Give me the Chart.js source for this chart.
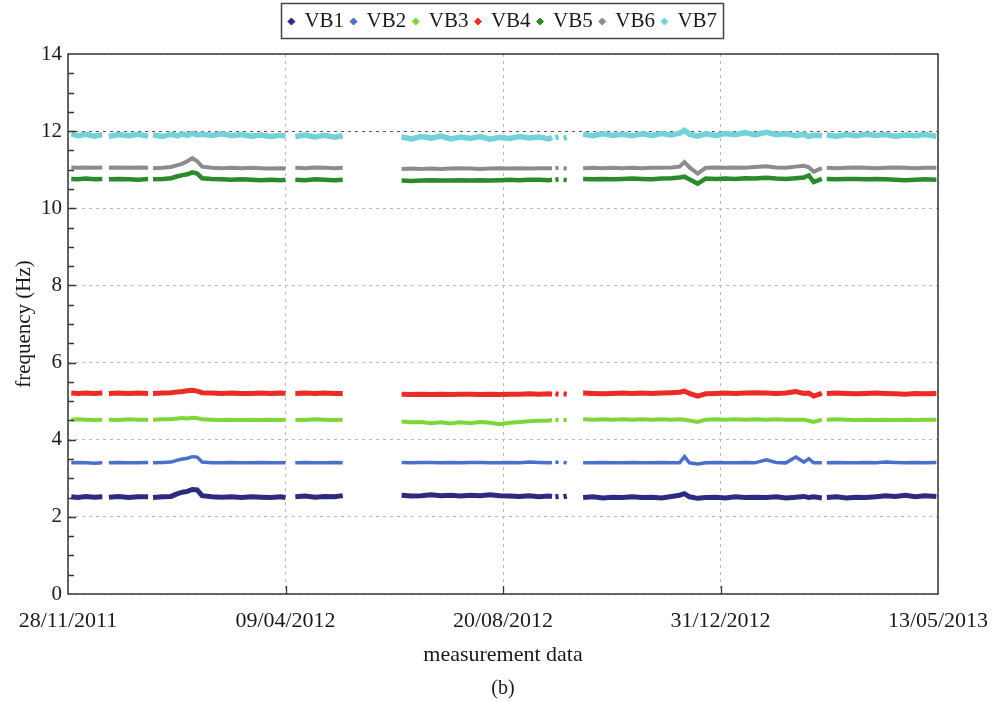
<!DOCTYPE html>
<html>
<head>
<meta charset="utf-8">
<script src="https://cdn.jsdelivr.net/npm/chart.js@4/dist/chart.umd.min.js"></script>
<style>
  html, body { margin: 0; padding: 0; background: #fff; }
  #wrap { width: 992px; height: 702px; }
</style>
</head>
<body>
<div id="wrap"><canvas id="c" width="992" height="702"></canvas></div>
<script>
// Sample days counted from 28/11/2011; null entries break the trace where logging stopped.
const days = [
  2, 6, 11, 16, 21, 23,
  25, 31, 37, 43, 49, 50.5,
  52, 58, 63, 67, 70, 73, 76, 79, 82, 88, 94, 100, 106, 112, 118, 124, 130, 133, 136,
  139, 145, 151, 157, 163, 168, 185,
  204, 210, 216, 222, 228, 234, 240, 246, 252, 258, 264, 270, 276, 282, 288, 294, 296, 297,
  298, 300, 301.5,
  303, 305, 310,
  315, 321, 327, 333, 339, 345, 351, 357, 363, 369, 374, 377, 380, 385, 390, 396, 402, 408, 414, 420, 427, 433, 439, 445, 450, 453, 456, 461, 462.5,
  464, 470, 476, 482, 488, 494, 500, 506, 512, 518, 524, 531
];

const vb1 = [
  2.52, 2.50, 2.53, 2.51, 2.52, null,
  2.51, 2.53, 2.50, 2.52, 2.52, null,
  2.50, 2.52, 2.53, 2.60, 2.64, 2.66, 2.71, 2.70, 2.55, 2.52, 2.51, 2.52, 2.50, 2.52, 2.51, 2.50, 2.52, 2.50, null,
  2.52, 2.54, 2.51, 2.53, 2.52, 2.55, null,
  2.56, 2.54, 2.55, 2.57, 2.55, 2.56, 2.54, 2.56, 2.55, 2.57, 2.55, 2.54, 2.53, 2.55, 2.52, 2.54, 2.53, null,
  2.52, 2.53, null,
  2.52, 2.54, null,
  2.50, 2.52, 2.49, 2.51, 2.50, 2.52, 2.50, 2.51, 2.49, 2.53, 2.56, 2.60, 2.52, 2.48, 2.50, 2.51, 2.49, 2.52, 2.50, 2.51, 2.50, 2.52, 2.49, 2.51, 2.53, 2.50, 2.52, 2.49, null,
  2.50, 2.52, 2.49, 2.51, 2.50, 2.52, 2.55, 2.53, 2.56, 2.52, 2.55, 2.53
];

const vb2 = [
  3.40, 3.41, 3.40, 3.39, 3.40, null,
  3.40, 3.41, 3.40, 3.40, 3.41, null,
  3.40, 3.41, 3.42, 3.47, 3.50, 3.52, 3.56, 3.55, 3.42, 3.40, 3.40, 3.41, 3.40, 3.40, 3.41, 3.40, 3.40, 3.40, null,
  3.40, 3.41, 3.40, 3.40, 3.41, 3.40, null,
  3.41, 3.40, 3.41, 3.41, 3.40, 3.41, 3.40, 3.41, 3.41, 3.40, 3.40, 3.41, 3.40, 3.42, 3.41, 3.40, 3.41, null,
  3.42, 3.41, null,
  3.41, 3.40, null,
  3.40, 3.40, 3.41, 3.40, 3.40, 3.41, 3.40, 3.40, 3.41, 3.40, 3.40, 3.56, 3.40, 3.37, 3.40, 3.41, 3.40, 3.40, 3.41, 3.40, 3.48, 3.41, 3.40, 3.55, 3.42, 3.51, 3.40, 3.40, null,
  3.40, 3.41, 3.40, 3.40, 3.41, 3.40, 3.42, 3.41, 3.40, 3.41, 3.40, 3.41
];

const vb3 = [
  4.52, 4.53, 4.52, 4.51, 4.52, null,
  4.52, 4.51, 4.53, 4.52, 4.52, null,
  4.52, 4.53, 4.53, 4.55, 4.56, 4.55, 4.57, 4.56, 4.53, 4.52, 4.51, 4.52, 4.51, 4.52, 4.51, 4.52, 4.51, 4.52, null,
  4.52, 4.51, 4.53, 4.52, 4.51, 4.52, null,
  4.47, 4.45, 4.46, 4.43, 4.45, 4.42, 4.45, 4.43, 4.46, 4.44, 4.40, 4.44, 4.46, 4.48, 4.49, 4.50, 4.51, null,
  4.52, 4.51, null,
  4.52, 4.51, null,
  4.53, 4.52, 4.53, 4.52, 4.53, 4.52, 4.53, 4.52, 4.53, 4.52, 4.53, 4.52, 4.50, 4.46, 4.52, 4.53, 4.52, 4.53, 4.52, 4.53, 4.52, 4.53, 4.52, 4.52, 4.52, 4.49, 4.46, 4.52, null,
  4.52, 4.53, 4.52, 4.51, 4.52, 4.51, 4.52, 4.51, 4.52, 4.51, 4.52, 4.52
];

const vb4 = [
  5.21, 5.20, 5.21, 5.20, 5.21, null,
  5.20, 5.21, 5.20, 5.21, 5.20, null,
  5.20, 5.21, 5.22, 5.24, 5.25, 5.27, 5.28, 5.26, 5.22, 5.21, 5.20, 5.21, 5.20, 5.20, 5.21, 5.20, 5.21, 5.20, null,
  5.20, 5.21, 5.20, 5.21, 5.20, 5.20, null,
  5.18, 5.17, 5.18, 5.17, 5.18, 5.17, 5.18, 5.18, 5.17, 5.18, 5.17, 5.18, 5.18, 5.19, 5.18, 5.19, 5.18, null,
  5.19, 5.18, null,
  5.19, 5.18, null,
  5.21, 5.20, 5.19, 5.20, 5.21, 5.20, 5.21, 5.20, 5.21, 5.22, 5.23, 5.26, 5.20, 5.13, 5.19, 5.20, 5.21, 5.20, 5.21, 5.22, 5.21, 5.20, 5.21, 5.25, 5.20, 5.21, 5.13, 5.20, null,
  5.20, 5.21, 5.20, 5.19, 5.20, 5.21, 5.20, 5.19, 5.18, 5.20, 5.19, 5.20
];

const vb5 = [
  10.76, 10.75, 10.77, 10.75, 10.76, null,
  10.75, 10.76, 10.75, 10.74, 10.76, null,
  10.75, 10.76, 10.78, 10.83, 10.86, 10.88, 10.93, 10.90, 10.78, 10.76, 10.75, 10.74, 10.75, 10.74, 10.73, 10.74, 10.73, 10.74, null,
  10.74, 10.73, 10.75, 10.74, 10.73, 10.74, null,
  10.72, 10.71, 10.72, 10.73, 10.72, 10.72, 10.73, 10.72, 10.73, 10.72, 10.73, 10.74, 10.73, 10.74, 10.74, 10.73, 10.74, null,
  10.74, 10.75, null,
  10.74, 10.73, null,
  10.76, 10.75, 10.76, 10.75, 10.76, 10.77, 10.76, 10.75, 10.77, 10.78, 10.80, 10.82, 10.75, 10.64, 10.77, 10.76, 10.77, 10.76, 10.78, 10.77, 10.79, 10.77, 10.76, 10.78, 10.80, 10.85, 10.68, 10.76, null,
  10.76, 10.75, 10.76, 10.76, 10.75, 10.76, 10.75, 10.74, 10.73, 10.74, 10.75, 10.74
];

const vb6 = [
  11.06, 11.05, 11.06, 11.05, 11.06, null,
  11.05, 11.06, 11.05, 11.06, 11.05, null,
  11.04, 11.05, 11.07, 11.12, 11.16, 11.22, 11.30, 11.22, 11.08, 11.05, 11.04, 11.05, 11.04, 11.05, 11.04, 11.03, 11.04, 11.03, null,
  11.05, 11.04, 11.06, 11.05, 11.04, 11.05, null,
  11.02, 11.03, 11.02, 11.03, 11.02, 11.03, 11.04, 11.03, 11.02, 11.03, 11.04, 11.03, 11.04, 11.03, 11.04, 11.04, 11.03, null,
  11.04, 11.05, null,
  11.04, 11.03, null,
  11.04, 11.05, 11.04, 11.05, 11.04, 11.05, 11.04, 11.05, 11.05, 11.06, 11.08, 11.20, 11.06, 10.90, 11.05, 11.06, 11.05, 11.06, 11.05, 11.07, 11.09, 11.06, 11.05, 11.08, 11.10, 11.06, 10.95, 11.04, null,
  11.05, 11.04, 11.05, 11.06, 11.05, 11.04, 11.05, 11.06, 11.05, 11.04, 11.05, 11.05
];

const vb7 = [
  11.93, 11.88, 11.92, 11.87, 11.91, null,
  11.86, 11.91, 11.88, 11.92, 11.87, null,
  11.90, 11.86, 11.92, 11.88, 11.93, 11.89, 11.94, 11.90, 11.92, 11.89, 11.93, 11.88, 11.91, 11.87, 11.90, 11.86, 11.89, 11.87, null,
  11.86, 11.90, 11.85, 11.89, 11.84, 11.88, null,
  11.85, 11.80, 11.86, 11.82, 11.87, 11.80, 11.85, 11.81, 11.86, 11.79, 11.84, 11.81, 11.86, 11.82, 11.85, 11.80, 11.84, null,
  11.83, 11.85, null,
  11.82, 11.84, null,
  11.92, 11.88, 11.93, 11.89, 11.92, 11.88, 11.93, 11.89, 11.94, 11.90, 11.95, 12.02, 11.92, 11.87, 11.93, 11.89, 11.94, 11.91, 11.96, 11.90, 11.97, 11.91, 11.93, 11.88, 11.92, 11.86, 11.90, 11.88, null,
  11.90, 11.87, 11.91, 11.88, 11.92, 11.89, 11.91, 11.87, 11.90, 11.88, 11.91, 11.87
];

const seriesNames = ['VB1', 'VB2', 'VB3', 'VB4', 'VB5', 'VB6', 'VB7'];
const seriesValues = [vb1, vb2, vb3, vb4, vb5, vb6, vb7];
const seriesColors = ['#2d2a80', '#4a70cc', '#7fd638', '#ec2a26', '#2b8a2b', '#8c8c8c', '#72d2d8'];
const seriesWidths = [5, 3.5, 4, 5, 4.5, 4, 5.5];

const tickDays = [0, 133, 266, 399, 532];
const tickLabels = ['28/11/2011', '09/04/2012', '20/08/2012', '31/12/2012', '13/05/2013'];

const FONT = "'Liberation Serif', 'Times New Roman', serif";
Chart.defaults.font.family = FONT;
Chart.defaults.color = '#1a1a1a';

const datasets = seriesNames.map((name, k) => ({
  label: name,
  data: days.map((d, i) => ({ x: d, y: seriesValues[k][i] })),
  borderColor: seriesColors[k],
  backgroundColor: seriesColors[k],
  borderWidth: seriesWidths[k],
  borderCapStyle: 'butt',
  pointRadius: 0,
  pointHoverRadius: 0,
  pointStyle: 'rectRot',
  spanGaps: false,
  tension: 0,
  fill: false
}));

// Extra room under the legend so the plot starts lower.
const legendGap = {
  id: 'legendGap',
  beforeLayout(chart) {
    const lg = chart.legend;
    if (lg && !lg.__gap) {
      const fit = lg.fit.bind(lg);
      lg.fit = function () { fit(); this.height += 12; };
      lg.__gap = true;
    }
  }
};

// Plot frame, inward tick marks and the box round the legend.
const frame = {
  id: 'frame',
  afterDraw(chart) {
    const { ctx, chartArea: a, scales: { x, y } } = chart;
    ctx.save();
    ctx.strokeStyle = '#363636';
    ctx.lineWidth = 1.5;
    ctx.strokeRect(a.left, a.top, a.right - a.left, a.bottom - a.top);

    ctx.lineWidth = 1.3;
    ctx.beginPath();
    for (let v = 0.5; v < 14; v += 0.5) {
      const py = Math.round(y.getPixelForValue(v)) + 0.5;
      const len = v % 2 === 0 ? 8 : 6;
      ctx.moveTo(a.left, py);
      ctx.lineTo(a.left + len, py);
    }
    tickDays.slice(1, -1).forEach(d => {
      const px = Math.round(x.getPixelForValue(d)) + 0.5;
      ctx.moveTo(px, a.bottom);
      ctx.lineTo(px, a.bottom - 8);
    });
    ctx.stroke();

    const hb = chart.legend && chart.legend.legendHitBoxes;
    if (hb && hb.length) {
      const left = Math.min(...hb.map(h => h.left)) - 8;
      const right = Math.max(...hb.map(h => h.left + h.width)) + 6;
      const top = Math.min(...hb.map(h => h.top)) - 8;
      ctx.lineWidth = 1.5;
      ctx.strokeStyle = '#444';
      ctx.strokeRect(Math.round(left) + 0.5, Math.round(top) + 0.5, Math.round(right - left), 35);
    }
    ctx.restore();
  }
};

new Chart(document.getElementById('c'), {
  type: 'line',
  data: { datasets },
  options: {
    responsive: false,
    animation: false,
    devicePixelRatio: 1,
    layout: { padding: { left: 0, right: 54, top: 4, bottom: 0 } },
    plugins: {
      legend: {
        position: 'top',
        fullSize: false,
        labels: {
          usePointStyle: true,
          boxHeight: 5,
          boxWidth: 5,
          padding: 7,
          color: '#1a1a1a',
          font: { family: FONT, size: 21 },
          generateLabels(chart) {
            const items = Chart.defaults.plugins.legend.labels.generateLabels(chart);
            items.forEach(it => { it.lineWidth = 1; });
            return items;
          }
        }
      },
      title: {
        display: true,
        position: 'bottom',
        fullSize: false,
        text: '(b)',
        color: '#1a1a1a',
        font: { family: FONT, size: 20, weight: 'normal' },
        padding: { top: 7, bottom: 1 }
      },
      tooltip: { enabled: false }
    },
    scales: {
      x: {
        type: 'linear',
        min: 0,
        max: 532,
        afterBuildTicks(scale) { scale.ticks = tickDays.map(v => ({ value: v })); },
        afterFit(scale) {
          scale.height = 76;
          // end labels may hang past the plot edges; the page margins already hold them
          scale.paddingLeft = 0;
          scale.paddingRight = 0;
        },
        ticks: {
          autoSkip: false,
          maxRotation: 0,
          padding: 14,
          color: '#1a1a1a',
          font: { family: FONT, size: 22 },
          callback: (v, i) => tickLabels[i]
        },
        grid: {
          drawTicks: false,
          color: '#b8b8b8',
          lineWidth: 1
        },
        border: { display: false, dash: [3, 4] },
        title: {
          display: true,
          text: 'measurement data',
          color: '#1a1a1a',
          font: { family: FONT, size: 22 },
          padding: { top: 0, bottom: 2 }
        }
      },
      y: {
        min: 0,
        max: 14,
        afterFit(scale) { scale.width = 68; },
        ticks: {
          stepSize: 2,
          padding: 6,
          color: '#1a1a1a',
          font: { family: FONT, size: 21 }
        },
        grid: {
          drawTicks: false,
          color: ctx => (ctx.tick && ctx.tick.value === 12) ? '#7a4a4a' : '#b8b8b8',
          lineWidth: 1
        },
        border: { display: false, dash: [3, 4] },
        title: {
          display: true,
          text: 'frequency (Hz)',
          color: '#1a1a1a',
          font: { family: FONT, size: 21 },
          padding: { top: 12, bottom: 0 }
        }
      }
    }
  },
  plugins: [legendGap, frame]
});
</script>
</body>
</html>
